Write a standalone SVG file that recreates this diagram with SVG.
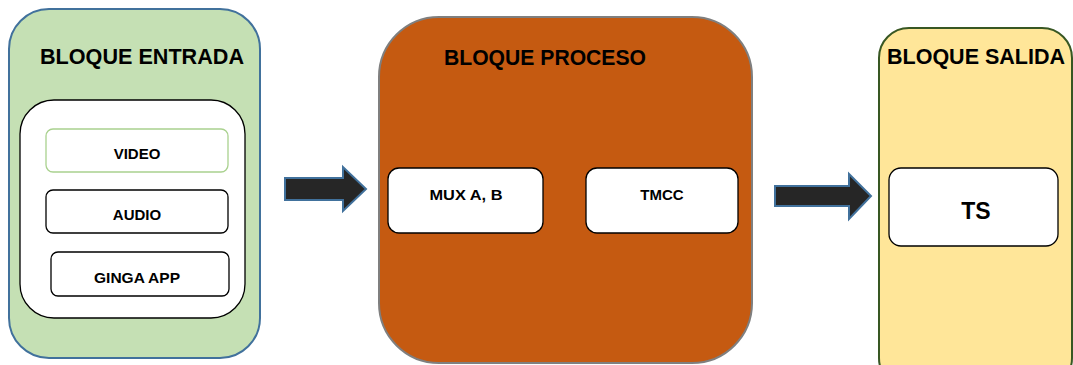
<svg xmlns="http://www.w3.org/2000/svg" width="1073" height="365" viewBox="0 0 1073 365">
<style>
text{font-family:"Liberation Sans",Arial,sans-serif;font-weight:bold;fill:#000;text-anchor:middle}
.title{font-size:22px}
.lbl{font-size:15px}
.box{fill:#fff;stroke:#000;stroke-width:1.3}
.arrow{fill:#262626;stroke:#41719c;stroke-width:2}
</style>
<rect width="1073" height="365" fill="#fff"/>
<g id="bloque-entrada">
<rect x="9" y="9" width="251" height="349" rx="40" fill="#c5e0b4" stroke="#41719c" stroke-width="2"/>
<text class="title" x="142" y="64" textLength="204" lengthAdjust="spacingAndGlyphs">BLOQUE ENTRADA</text>
<rect x="20" y="100" width="225" height="218" rx="34" class="box"/>
</g>
<g id="video">
<rect x="46" y="129" width="182" height="43" rx="7" fill="#fff" stroke="#a9d18e" stroke-width="1.3"/>
<text class="lbl" x="137" y="159">VIDEO</text>
</g>
<g id="audio">
<rect x="46" y="190" width="182" height="43" rx="7" class="box"/>
<text class="lbl" x="137" y="220">AUDIO</text>
</g>
<g id="ginga-app">
<rect x="51" y="252" width="178" height="44" rx="7" class="box"/>
<text class="lbl" x="137" y="283" textLength="86" lengthAdjust="spacingAndGlyphs">GINGA APP</text>
</g>
<g id="bloque-proceso">
<rect x="379" y="17" width="373" height="346" rx="60" fill="#c55a11" stroke="#7f7f7f" stroke-width="2"/>
<text class="title" x="545" y="65" textLength="202" lengthAdjust="spacingAndGlyphs">BLOQUE PROCESO</text>
</g>
<g id="mux">
<rect x="388" y="168" width="155" height="65" rx="11" class="box"/>
<text class="lbl" x="466" y="200" textLength="73" lengthAdjust="spacingAndGlyphs">MUX A, B</text>
</g>
<g id="tmcc">
<rect x="586" y="168" width="152" height="65" rx="11" class="box"/>
<text class="lbl" x="662" y="200">TMCC</text>
</g>
<g id="bloque-salida">
<rect x="879" y="28" width="193" height="360" rx="30" fill="#ffe699" stroke="#385723" stroke-width="2"/>
<text class="title" x="976" y="64" textLength="178" lengthAdjust="spacingAndGlyphs">BLOQUE SALIDA</text>
</g>
<g id="ts">
<rect x="889" y="168" width="169" height="78" rx="12" class="box"/>
<text x="976" y="219" style="font-size:23px">TS</text>
</g>
<g id="connectors">
<path class="arrow" d="M285 178 H343 V167 L366 189 L343 211 V200 H285 Z"/>
<path class="arrow" d="M775 186 H849 V174 L871 196 L849 219 V206 H775 Z"/>
</g>
</svg>
